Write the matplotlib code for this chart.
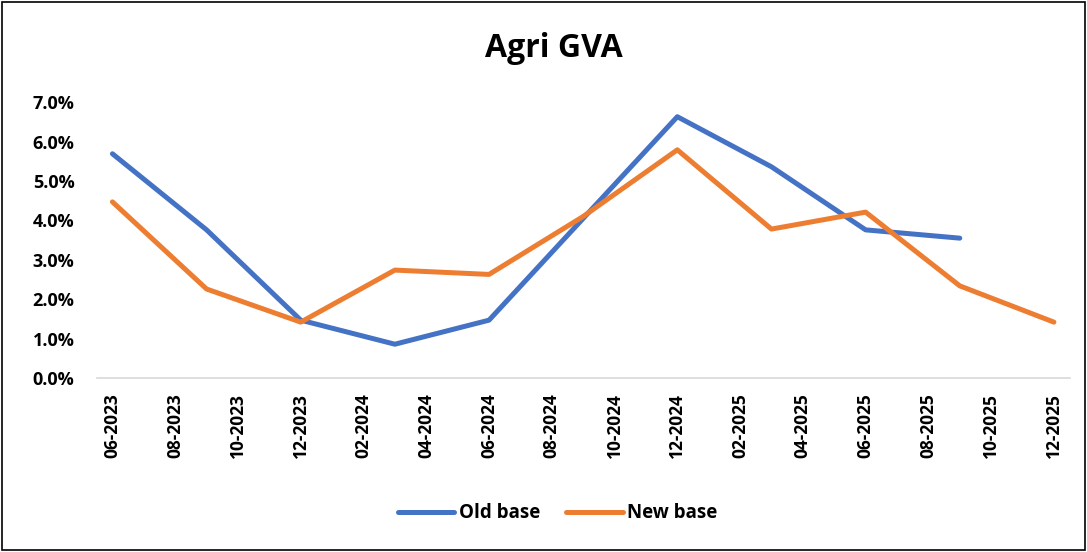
import matplotlib
matplotlib.use("Agg")
import matplotlib.pyplot as plt
from matplotlib.patches import Rectangle
from matplotlib.ticker import FuncFormatter, MultipleLocator

plt.rcParams['font.family'] = ['Open Sans', 'DejaVu Sans']

# month index: 0 = 06-2023
tick_labels = ["06-2023", "08-2023", "10-2023", "12-2023", "02-2024", "04-2024",
               "06-2024", "08-2024", "10-2024", "12-2024", "02-2025", "04-2025",
               "06-2025", "08-2025", "10-2025", "12-2025"]
tick_months = [0, 2, 4, 6, 8, 10, 12, 14, 16, 18, 20, 22, 24, 26, 28, 30]

old_months = [0, 3, 6, 9, 12, 15, 18, 21, 24, 27]
old_base = [5.69, 3.76, 1.47, 0.86, 1.47, 4.05, 6.63, 5.36, 3.76, 3.55]

new_months = [0, 3, 6, 9, 12, 15, 18, 21, 24, 27, 30]
new_base = [4.47, 2.26, 1.42, 2.74, 2.63, 4.1, 5.79, 3.78, 4.21, 2.34, 1.42]

fig = plt.figure(figsize=(10.87, 5.52), dpi=100)
ax = fig.add_axes([0.089, 0.315, 0.895, 0.5])

ax.plot(old_months, old_base, color="#4472C4", lw=3.6, label="Old base", solid_capstyle="round")
ax.plot(new_months, new_base, color="#ED7D31", lw=3.6, label="New base", solid_capstyle="round")

ax.set_xlim(-0.5, 30.5)
ax.set_ylim(0, 7)
ax.yaxis.set_major_locator(MultipleLocator(1))
ax.yaxis.set_major_formatter(FuncFormatter(lambda v, p: f"{v:.1f}%"))
ax.set_xticks(tick_months)
ax.set_xticklabels(tick_labels, rotation=90, fontweight="bold", fontsize=12.5)
for lab in ax.get_yticklabels():
    lab.set_fontweight("bold")
    lab.set_fontsize(13)
ax.tick_params(axis="both", length=0)
ax.tick_params(axis="x", pad=11)
ax.tick_params(axis="y", pad=16)

for s in ["top", "right", "left"]:
    ax.spines[s].set_visible(False)
ax.spines["bottom"].set_color("#D9D9D9")
ax.spines["bottom"].set_linewidth(1.2)

fig.text(0.51, 0.913, "Agri GVA", ha="center", va="center", fontsize=23, fontweight="bold")

leg = fig.legend(loc="center", bbox_to_anchor=(0.513, 0.07), ncol=2, frameon=False,
                 prop={"weight": "bold", "size": 13.5}, handlelength=3.0,
                 columnspacing=1.4, handletextpad=0.25)

fig.patches.append(Rectangle((0.002, 0.004), 0.996, 0.992, transform=fig.transFigure,
                             fill=False, edgecolor="black", linewidth=1.2))

fig.savefig("out.png", dpi=100)
